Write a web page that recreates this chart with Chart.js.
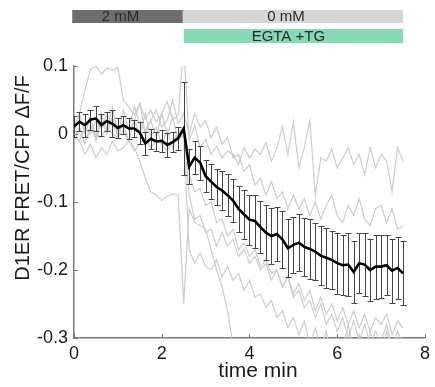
<!DOCTYPE html>
<html><head><meta charset="utf-8">
<script src="https://cdn.jsdelivr.net/npm/chart.js@4/dist/chart.umd.min.js"></script>
<style>html,body{margin:0;padding:0;background:#fff;}canvas{display:block;}</style>
</head><body>
<canvas id="c" width="435" height="387"></canvas>
<script>
// ---- data ----
const time = [0,0.125,0.25,0.375,0.5,0.625,0.75,0.875,1,1.125,1.25,1.375,1.5,1.625,1.75,1.875,2,2.125,2.25,2.375,2.5,
  2.625,2.75,2.875,3,3.125,3.25,3.375,3.5,3.625,3.75,3.875,4,4.125,4.25,4.375,4.5,4.625,4.75,4.875,5,
  5.125,5.25,5.375,5.5,5.625,5.75,5.875,6,6.125,6.25,6.375,6.5,6.625,6.75,6.875,7,7.125,7.25,7.375,7.5];
const meanVals = [0.011,0.018,0.013,0.021,0.023,0.013,0.019,0.015,0.009,0.013,0.008,0.008,0.002,-0.014,-0.007,-0.011,-0.010,-0.016,-0.012,-0.006,0.008,
  -0.048,-0.035,-0.042,-0.062,-0.070,-0.078,-0.083,-0.090,-0.098,-0.110,-0.118,-0.126,-0.128,-0.137,-0.145,-0.150,-0.147,-0.155,-0.168,-0.163,
  -0.160,-0.166,-0.169,-0.173,-0.179,-0.182,-0.185,-0.190,-0.193,-0.192,-0.203,-0.190,-0.192,-0.200,-0.195,-0.195,-0.193,-0.201,-0.197,-0.205];
const semVals = [0.016,0.014,0.017,0.015,0.018,0.016,0.014,0.020,0.015,0.013,0.015,0.012,0.016,0.017,0.015,0.014,0.016,0.018,0.015,0.017,0.068,
  0.026,0.024,0.025,0.024,0.026,0.027,0.029,0.031,0.032,0.034,0.036,0.037,0.039,0.038,0.040,0.041,0.040,0.042,0.043,0.041,
  0.042,0.043,0.044,0.042,0.043,0.044,0.043,0.045,0.044,0.046,0.045,0.044,0.046,0.045,0.047,0.046,0.044,0.047,0.046,0.047];
const cell1 = [0.005,0.03,0.065,0.095,0.1,0.088,0.097,0.094,0.098,0.05,0.04,0.028,0.045,0.022,0.035,0.018,0.03,0.048,0.02,0.028,0.13,
  -0.01,0.012,-0.02,-0.008,-0.03,-0.018,-0.035,-0.025,-0.03,-0.045,-0.02,-0.035,-0.022,-0.03,-0.012,-0.04,-0.02,0.01,-0.03,0.018,
  -0.05,-0.02,0.02,-0.09,-0.035,-0.04,-0.022,-0.05,-0.035,-0.02,-0.045,-0.03,-0.06,-0.02,-0.05,-0.03,-0.04,-0.085,-0.02,-0.04];
const cell2 = [0.0,-0.01,0.01,0.0,0.02,0.008,0.03,0.015,0.0,0.02,0.01,0.04,0.015,0.005,0.02,0.035,0.01,0.02,0.05,0.015,0.03,
  0.0,0.03,0.01,0.02,-0.005,0.01,-0.015,-0.005,-0.035,-0.03,-0.055,-0.045,-0.075,-0.065,-0.09,-0.07,-0.095,-0.085,-0.11,-0.09,
  -0.11,-0.095,-0.12,-0.1,-0.125,-0.105,-0.09,-0.12,-0.13,-0.105,-0.12,-0.095,-0.125,-0.135,-0.11,-0.105,-0.13,-0.11,-0.14,-0.135];
const cell3 = [-0.01,0.01,-0.015,0.015,-0.01,0.02,0.0,0.025,-0.005,0.015,-0.01,0.02,0.0,0.03,-0.005,0.01,-0.015,0.005,-0.02,0.0,0.01,
  -0.09,-0.125,-0.12,-0.145,-0.14,-0.165,-0.145,-0.165,-0.155,-0.18,-0.17,-0.19,-0.18,-0.2,-0.19,-0.215,-0.2,-0.225,-0.21,-0.235,
  -0.22,-0.245,-0.23,-0.26,-0.24,-0.265,-0.25,-0.275,-0.255,-0.28,-0.26,-0.285,-0.265,-0.29,-0.27,-0.28,-0.265,-0.295,-0.275,-0.285];
const cell4 = [0.005,0.0,-0.01,0.005,0.0,-0.005,0.01,0.0,-0.005,0.005,-0.01,-0.02,-0.04,-0.065,-0.085,-0.09,-0.098,-0.092,-0.088,-0.09,-0.25,
  -0.11,-0.13,-0.135,-0.14,-0.17,-0.2,-0.225,-0.26,-0.31,-0.36,-0.4,-0.42,-0.45,-0.44,-0.47,-0.5,-0.48,-0.5,-0.52,-0.5,
  -0.53,-0.55,-0.54,-0.56,-0.55,-0.57,-0.56,-0.58,-0.57,-0.59,-0.58,-0.6,-0.59,-0.6,-0.61,-0.6,-0.62,-0.61,-0.62,-0.63];
const cell5 = [-0.005,-0.01,-0.03,-0.015,-0.035,-0.02,-0.03,-0.01,-0.025,-0.02,-0.01,-0.025,-0.015,-0.005,-0.02,-0.01,-0.015,-0.025,-0.01,0.0,-0.005,
  -0.17,-0.19,-0.175,-0.195,-0.2,-0.185,-0.21,-0.195,-0.215,-0.205,-0.23,-0.215,-0.24,-0.235,-0.255,-0.245,-0.27,-0.26,-0.285,-0.27,
  -0.295,-0.275,-0.31,-0.285,-0.315,-0.29,-0.33,-0.3,-0.315,-0.28,-0.32,-0.295,-0.33,-0.29,-0.315,-0.325,-0.29,-0.32,-0.3,-0.325];
const cell6 = [0.01,0.03,0.0,0.025,-0.005,0.03,0.005,0.04,0.0,0.035,0.005,0.02,0.045,0.0,0.02,-0.005,0.03,0.0,0.025,-0.01,0.0,
  -0.06,-0.085,-0.08,-0.105,-0.1,-0.13,-0.125,-0.15,-0.14,-0.17,-0.16,-0.18,-0.17,-0.195,-0.185,-0.205,-0.2,-0.225,-0.21,-0.24,
  -0.23,-0.255,-0.245,-0.27,-0.25,-0.28,-0.265,-0.29,-0.27,-0.3,-0.275,-0.305,-0.28,-0.31,-0.29,-0.305,-0.28,-0.315,-0.29,-0.31];
const cells = [cell1, cell2, cell3, cell4, cell5, cell6];

const xTicks = [0, 2, 4, 6, 8];
const yTicks = [0.1, 0, -0.1, -0.2, -0.3];
const condLabels = ['2 mM', '0 mM'];
const condStart = [-0.04, 2.48];
const condEnd = [2.48, 7.5];
const treatLabels = ['EGTA +TG'];
const treatStart = [2.5];
const treatEnd = [7.5];
const xTitle = 'time min';
const yTitle = 'D1ER FRET/CFP \u0394F/F';

// ---- styling ----
const FONT = '"Liberation Sans", Arial, Helvetica, sans-serif';
const AXIS = '#7a7a7a';
const TXT = '#1a1a1a';

const pts = arr => arr.map((v, i) => ({x: time[i], y: v}));

const overlay = {
  id: 'overlay',
  beforeDatasetDraw(chart, args) {
    if (args.index !== 0) return;
    const {ctx, chartArea: a, scales: {x, y}} = chart;
    ctx.save();
    ctx.beginPath(); ctx.rect(a.left, a.top - 1, a.right - a.left, a.bottom - a.top + 2); ctx.clip();
    ctx.strokeStyle = '#444'; ctx.lineWidth = 1;
    ctx.beginPath();
    for (let i = 0; i < time.length; i++) {
      const px = Math.round(x.getPixelForValue(time[i])) + 0.5;
      const t = Math.round(y.getPixelForValue(meanVals[i] + semVals[i])) + 0.5;
      const b = Math.round(y.getPixelForValue(meanVals[i] - semVals[i])) + 0.5;
      ctx.moveTo(px, t); ctx.lineTo(px, b);
      ctx.moveTo(px - 3, t); ctx.lineTo(px + 3, t);
      ctx.moveTo(px - 3, b); ctx.lineTo(px + 3, b);
    }
    ctx.stroke();
    ctx.restore();
  },
  afterDraw(chart) {
    const {ctx, chartArea: a, scales: {x, y}} = chart;
    ctx.save();
    ctx.strokeStyle = AXIS; ctx.lineWidth = 1;
    ctx.beginPath();
    yTicks.forEach(v => { const py = Math.round(y.getPixelForValue(v)) + 0.5; ctx.moveTo(a.left, py); ctx.lineTo(a.left + 4, py); });
    xTicks.forEach(v => { const px = Math.round(x.getPixelForValue(v)) + 0.5; ctx.moveTo(px, a.bottom); ctx.lineTo(px, a.bottom - 4); });
    ctx.stroke();
    ctx.fillStyle = TXT;
    ctx.textAlign = 'center'; ctx.textBaseline = 'middle';
    ctx.font = '21px ' + FONT;
    ctx.fillText(xTitle, 258, 371);
    ctx.save();
    ctx.translate(23, 178); ctx.rotate(-Math.PI / 2);
    ctx.font = '20px ' + FONT;
    ctx.fillText(yTitle, 0, 0);
    ctx.restore();
    const condColors = ['#6e6e70', '#d6d6d6'];
    ctx.font = '15px ' + FONT;
    condLabels.forEach((lab, i) => {
      const x0 = x.getPixelForValue(condStart[i]), x1 = x.getPixelForValue(condEnd[i]);
      ctx.fillStyle = condColors[i];
      ctx.fillRect(x0, 10, x1 - x0, 13);
      ctx.fillStyle = '#2a2a2a';
      ctx.fillText(lab, (x0 + x1) / 2 - 7, 17);
    });
    treatLabels.forEach((lab, i) => {
      const x0 = x.getPixelForValue(treatStart[i]), x1 = x.getPixelForValue(treatEnd[i]);
      ctx.fillStyle = '#86d8b6';
      ctx.fillRect(x0, 29, x1 - x0, 14);
      ctx.fillStyle = '#2a2a2a';
      ctx.fillText(lab, (x0 + x1) / 2 - 5, 36.5);
    });
    ctx.restore();
  }
};

const datasets = [{
  data: pts(meanVals), borderColor: '#000', borderWidth: 2.6, pointRadius: 0, tension: 0, order: 0
}].concat(cells.map(c => ({
  data: pts(c), borderColor: '#cdcdcd', borderWidth: 1.2, pointRadius: 0, tension: 0, order: 1
})));

new Chart(document.getElementById('c'), {
  type: 'line',
  data: {datasets},
  options: {
    responsive: false, animation: false, events: [],
    layout: {padding: {top: 66, right: 9, bottom: 0, left: 0}},
    plugins: {legend: {display: false}, tooltip: {enabled: false}},
    scales: {
      x: {
        type: 'linear', min: 0, max: 8,
        afterBuildTicks: s => { s.ticks = xTicks.map(v => ({value: v})); },
        afterFit: s => { s.height = 49; },
        grid: {display: false, drawTicks: false},
        border: {display: true, color: AXIS, width: 1.5},
        ticks: {color: TXT, font: {family: FONT, size: 18}, padding: 5, maxRotation: 0, autoSkip: false,
          callback: v => String(v)}
      },
      y: {
        type: 'linear', min: -0.3, max: 0.1,
        afterBuildTicks: s => { s.ticks = yTicks.map(v => ({value: v})); },
        afterFit: s => { s.width = 74; },
        grid: {display: false, drawTicks: false},
        border: {display: true, color: AXIS, width: 1.5},
        ticks: {color: TXT, font: {family: FONT, size: 18}, padding: 6, autoSkip: false,
          callback: v => Math.abs(v) < 1e-9 ? '0' : String(Math.round(v * 10) / 10)}
      }
    }
  },
  plugins: [overlay]
});
</script>
</body></html>
